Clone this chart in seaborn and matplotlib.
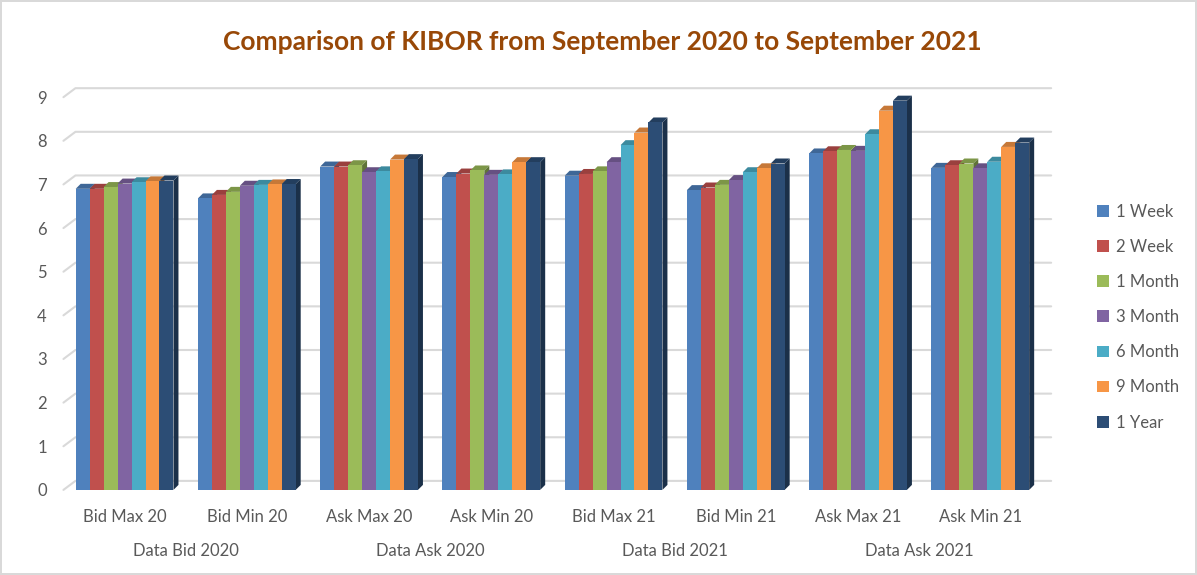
import numpy as np
import pandas as pd
import matplotlib.pyplot as plt
import matplotlib.patches as mpatches
import matplotlib.colors as mcolors
import matplotlib.transforms as mtransforms
import seaborn as sns

# data
categories = ["Bid Max 20", "Bid Min 20", "Ask Max 20", "Ask Min 20",
              "Bid Max 21", "Bid Min 21", "Ask Max 21", "Ask Min 21"]
group_labels = ["Data Bid 2020", "Data Ask 2020", "Data Bid 2021", "Data Ask 2021"]
tenors = ["1 Week", "2 Week", "1 Month", "3 Month", "6 Month", "9 Month", "1 Year"]

week1  = [6.90, 6.68, 7.41, 7.17, 7.20, 6.87, 7.71, 7.38]
week2  = [6.90, 6.76, 7.41, 7.25, 7.24, 6.93, 7.76, 7.44]
month1 = [6.94, 6.83, 7.44, 7.32, 7.30, 6.99, 7.79, 7.48]
month3 = [7.02, 6.97, 7.28, 7.22, 7.51, 7.10, 7.77, 7.37]
month6 = [7.05, 6.99, 7.30, 7.23, 7.90, 7.28, 8.15, 7.52]
month9 = [7.07, 7.00, 7.57, 7.51, 8.19, 7.37, 8.69, 7.86]
year1  = [7.09, 7.01, 7.58, 7.51, 8.42, 7.48, 8.92, 7.96]

colors = ["#4F81BD", "#C0504D", "#9BBB59", "#8064A2", "#4BACC6", "#F79646", "#2C4D75"]

series = [week1, week2, month1, month3, month6, month9, year1]
df = pd.DataFrame([
    {"Category": c, "Tenor": t, "Rate": v}
    for t, vals in zip(tenors, series)
    for c, v in zip(categories, vals)
])

sns.set_style("white")
plt.rcParams["font.family"] = ["Lato", "DejaVu Sans"]

fig = plt.figure(figsize=(11.97, 5.75), dpi=100)
fig.patch.set_edgecolor("#D9D9D9")
fig.patch.set_linewidth(1.5)
ax = fig.add_axes([0.053, 0.148, 0.817, 0.683])

sns.barplot(data=df, x="Category", y="Rate", hue="Tenor", order=categories,
            hue_order=tenors, palette=colors, width=0.8, saturation=1,
            linewidth=0, ax=ax, legend=True)

ax.set_ylim(0, 9)
ax.set_xlim(-0.5, len(categories) - 0.5)
ax.set_yticks(range(0, 10))
for s in ax.spines.values():
    s.set_visible(False)
ax.set_xlabel("")
ax.set_ylabel("")
ax.tick_params(axis="both", length=0, labelsize=12, labelcolor="#595959")
ax.tick_params(axis="x", pad=14)
ax.tick_params(axis="y", pad=12)

# second row of category labels
for i, g in enumerate(group_labels):
    ax.text(2 * i + 0.5, -0.155, g, transform=ax.get_xaxis_transform(),
            ha="center", va="center", fontsize=12, color="#595959")

ident = mtransforms.IdentityTransform()

# back-wall gridlines with the little floor diagonal on the left
xl, _ = ax.transAxes.transform((0, 0))
xr, _ = ax.transAxes.transform((1.01, 0))
for v in ax.get_yticks():
    _, yv = ax.transData.transform((0, v))
    ax.plot([xl, xl + 12, xr], [yv, yv + 9, yv + 9], transform=ident,
            color="#D9D9D9", linewidth=1.5, zorder=0.5, clip_on=False)

# simple 3D look: side and top faces behind the drawn bars
dx, dy = 5, 5
bars = [p for p in ax.patches if isinstance(p, mpatches.Rectangle) and p.get_height() > 0]
for p in bars:
    p.set_zorder(2)
    base = np.array(mcolors.to_rgb(p.get_facecolor()))
    x0, y0 = ax.transData.transform((p.get_x(), 0))
    x1, y1 = ax.transData.transform((p.get_x() + p.get_width(), p.get_height()))
    side = mpatches.Polygon([(x1, y0), (x1, y1), (x1 + dx, y1 + dy), (x1 + dx, y0 + dy)],
                            closed=True, facecolor=base * 0.62, edgecolor="none", zorder=1.5)
    top = mpatches.Polygon([(x0, y1), (x1, y1), (x1 + dx, y1 + dy), (x0 + dx, y1 + dy)],
                           closed=True, facecolor=base * 0.8, edgecolor="none", zorder=1.6)
    for poly in (side, top):
        ax.add_patch(poly)
        poly.set_transform(ident)
        poly.set_clip_on(False)

handles, labels = ax.get_legend_handles_labels()
ax.legend(handles, labels, loc="center left", bbox_to_anchor=(1.042, 0.44),
          frameon=False, fontsize=12, labelcolor="#595959", handlelength=0.7,
          handleheight=0.7, handletextpad=0.4, labelspacing=1.15)

fig.text(0.503, 0.927, "Comparison of KIBOR from September 2020 to September 2021",
         ha="center", va="center", fontsize=19, fontweight="bold", color="#984807")

fig.savefig("out.png", dpi=100, edgecolor=fig.get_edgecolor())
